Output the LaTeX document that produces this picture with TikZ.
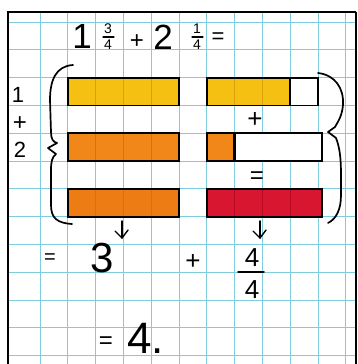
\documentclass[tikz,border=0pt]{standalone}
\usepackage{fontspec}
\setmainfont{Liberation Sans}
\usetikzlibrary{calc}
\definecolor{gridc}{RGB}{125,205,222}
\definecolor{goldc}{RGB}{246,192,18}
\definecolor{goldd}{RGB}{222,160,10}
\definecolor{orangeb}{RGB}{241,135,24}
\definecolor{oranged}{RGB}{220,110,15}
\definecolor{orangec}{RGB}{238,124,20}
\definecolor{redc}{RGB}{216,22,48}
\definecolor{redd}{RGB}{185,10,35}
\begin{document}
\begin{tikzpicture}[x=1pt,y=-1pt,
  hand/.style={line width=1.7pt, line cap=round, line join=round},
  barline/.style={draw=black, line width=1.8pt},
  gl/.style={draw=gridc, line width=0.9pt},
  txt/.style={inner sep=0pt, text=black},
  fs/.style={font=\fontsize{#1}{#1}\selectfont}]
\useasboundingbox (0,0) rectangle (357,364);
\fill[white] (0,0) rectangle (357,364);
% grid
\foreach \i in {0,...,11} \draw[gl] ({40+27.8*\i},12) -- ({40+27.8*\i},364);
\foreach \j in {0,...,12} \draw[gl] (8,{22+27.8*\j}) -- (356,{22+27.8*\j});
% border
\draw[line width=2.2pt] (8,364) -- (8,12) -- (356,12);
\draw[line width=1.2pt] (356,12) -- (356,364);
% row 1
\fill[goldc] (67.8,77.6) rectangle (179,105.4);
\foreach \x in {95.6,123.4,151.2} \draw[goldd, line width=0.7pt] (\x,77.6) -- (\x,105.4);
\draw[barline] (67.8,77.6) rectangle (179,105.4);
\fill[white] (206.8,77.6) rectangle (318,105.4);
\fill[goldc] (206.8,77.6) rectangle (290.2,105.4);
\foreach \x in {234.6,262.4} \draw[goldd, line width=0.7pt] (\x,77.6) -- (\x,105.4);
\draw[barline] (206.8,77.6) rectangle (318,105.4);
\draw[barline, line width=2.4pt] (290.2,77.6) -- (290.2,105.4);
% row 2
\fill[orangeb] (67.8,133.2) rectangle (179,161);
\foreach \x in {95.6,123.4,151.2} \draw[oranged, line width=0.7pt] (\x,133.2) -- (\x,161);
\draw[barline] (67.8,133.2) rectangle (179,161);
\fill[white] (206.8,133.2) rectangle (322,161);
\fill[orangeb] (206.8,133.2) rectangle (234.6,161);
\draw[barline] (206.8,133.2) rectangle (322,161);
\draw[barline, line width=2.4pt] (234.6,133.2) -- (234.6,161);
% row 3
\fill[orangec] (67.8,188.8) rectangle (179,216.6);
\foreach \x in {95.6,123.4,151.2} \draw[oranged, line width=0.7pt] (\x,188.8) -- (\x,216.6);
\draw[barline] (67.8,188.8) rectangle (179,216.6);
\fill[redc] (206.8,188.8) rectangle (322,216.6);
\foreach \x in {234.6,262.4,290.2} \draw[redd, line width=0.7pt] (\x,188.8) -- (\x,216.6);
\draw[barline] (206.8,188.8) rectangle (322,216.6);
% braces
\draw[hand] (73,65) .. controls (56,66) and (50,80) .. (50,100) -- (51,132)
  .. controls (51,139) and (53,142) .. (57,143) -- (48,148) -- (56,154)
  .. controls (52,157) and (51,162) .. (51,170) -- (51,205)
  .. controls (51,218) and (57,223) .. (72,224);
\draw[hand] (318,73) .. controls (335,75) and (344,88) .. (343,105)
  .. controls (342,117) and (337,123) .. (335,127) -- (328,132) -- (336,138)
  .. controls (340,148) and (341,160) .. (341,175) -- (341,195)
  .. controls (341,210) and (336,219) .. (328,223);
% top equation
\node[txt, fs=35] (t1) at (82,36) {1};
\node[txt, fs=14] (f34) at (108,39) {\begin{tabular}{@{}c@{}}3\\[2pt]4\end{tabular}};
\draw[hand, line width=1.3pt] (103,37) -- (114,37);
\node[txt, fs=24] (tp) at (137,42) {+};
\node[txt, fs=35] (t2) at (163,37) {2};
\node[txt, fs=14] (f14) at (197,39) {\begin{tabular}{@{}c@{}}1\\[2pt]4\end{tabular}};
\draw[hand, line width=1.3pt] (192,37) -- (203,37);
\node[txt, fs=22] (teq) at (218,38) {=};
% left labels
\node[txt, fs=22] (l1) at (18,95) {1};
\node[txt, fs=24] (lp) at (20,124) {+};
\node[txt, fs=22] (l2) at (20,150) {2};
% middle signs
\node[txt, fs=26] (mp) at (255,120) {+};
\node[txt, fs=24] (me) at (257,178) {=};
% arrows
\coordinate (a1s) at (122,221); \coordinate (a1e) at (122,238);
\coordinate (a2s) at (260,221); \coordinate (a2e) at (260,238);
\draw[hand, line width=1.4pt] (a1s) -- (a1e);
\draw[hand, line width=1.4pt] ($(a1e)+(-7,-7)$) -- (a1e) -- ($(a1e)+(6,-8)$);
\draw[hand, line width=1.4pt] (a2s) -- (a2e);
\draw[hand, line width=1.4pt] ($(a2e)+(-7,-7)$) -- (a2e) -- ($(a2e)+(6,-8)$);
% result line
\node[txt, fs=20] (be) at (50,259) {=};
\node[txt, fs=42] (b3) at (102,258) {3};
\node[txt, fs=26] (bp) at (193,262) {+};
\node[txt, fs=26] (bn) at (252,258) {4};
\draw[hand, line width=1.5pt] (238,272) -- (264,272);
\node[txt, fs=26] (bd) at (252,290) {4};
% final
\node[txt, fs=24] (fe) at (106,343) {=};
\node[txt, fs=44, anchor=base west] (f4) at (127,353) {4.};
\end{tikzpicture}
\end{document}
